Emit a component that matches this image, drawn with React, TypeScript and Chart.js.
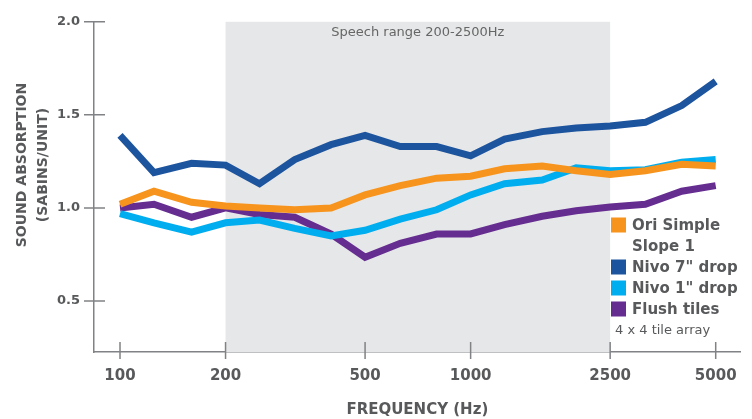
import React, { useEffect, useRef } from "react";
import { Chart, registerables } from "chart.js";

Chart.register(...registerables);

// ---- data ----
const FREQS = [100, 125, 160, 200, 250, 315, 400, 500, 630, 800, 1000, 1250, 1600, 2000, 2500, 3150, 4000, 5000];
const ORI_SIMPLE = [1.02, 1.09, 1.03, 1.01, 1.0, 0.99, 1.0, 1.07, 1.12, 1.16, 1.17, 1.21, 1.225, 1.2, 1.18, 1.2, 1.235, 1.225];
const NIVO_7 = [1.39, 1.19, 1.24, 1.23, 1.13, 1.26, 1.34, 1.39, 1.33, 1.33, 1.28, 1.37, 1.41, 1.43, 1.44, 1.46, 1.55, 1.68];
const NIVO_1 = [0.97, 0.92, 0.87, 0.92, 0.935, 0.89, 0.85, 0.88, 0.94, 0.99, 1.07, 1.13, 1.15, 1.215, 1.2, 1.205, 1.245, 1.26];
const FLUSH = [1.0, 1.02, 0.95, 1.0, 0.965, 0.95, 0.86, 0.735, 0.81, 0.86, 0.86, 0.91, 0.955, 0.985, 1.005, 1.02, 1.09, 1.12];

const SERIES_NAMES = ['Ori Simple Slope 1', 'Nivo 7" drop', 'Nivo 1" drop', 'Flush tiles'];
const LEGEND_LINES = [["Ori Simple", "Slope 1"], ['Nivo 7" drop'], ['Nivo 1" drop'], ["Flush tiles"]];
const LEGEND_NOTE = "4 x 4 tile array";
const X_TICKS = [100, 200, 500, 1000, 2500, 5000];
const Y_TICKS = [0.5, 1.0, 1.5, 2.0];
const SPEECH_RANGE = [200, 2500];
const SPEECH_LABEL = "Speech range 200-2500Hz";
const X_TITLE = "FREQUENCY (Hz)";
const Y_TITLE = ["SOUND ABSORPTION", "(SABINS/UNIT)"];

// ---- styles ----
const COLORS = ["#F7941D", "#1D549E", "#00AEEF", "#662D91"];
const TEXT = "#58595B";
const AXIS = "#808285";
const SHADE = "#E6E7E8";
const FONT = "'DejaVu Sans'";

export default function App() {
  const ref = useRef<HTMLCanvasElement | null>(null);

  useEffect(() => {
    if (!ref.current) return;
    const allSeries = [ORI_SIMPLE, NIVO_7, NIVO_1, FLUSH];
    const orders = [1, 0, 2, 3];

    const decor = {
      id: "decor",
      beforeDatasetsDraw(chart: any) {
        const { ctx, chartArea } = chart;
        const xs = chart.scales.x;
        const x0 = xs.getPixelForValue(SPEECH_RANGE[0]);
        const x1 = xs.getPixelForValue(SPEECH_RANGE[1]);
        ctx.save();
        ctx.fillStyle = SHADE;
        ctx.fillRect(x0, chartArea.top, x1 - x0, chartArea.bottom - chartArea.top);
        ctx.fillStyle = "#666";
        ctx.font = `13px ${FONT}`;
        ctx.textAlign = "center";
        ctx.textBaseline = "middle";
        ctx.fillText(SPEECH_LABEL, (x0 + x1) / 2, chartArea.top + 11);
        ctx.restore();
      },
      afterDraw(chart: any) {
        const { ctx, chartArea } = chart;
        const xs = chart.scales.x;
        const ys = chart.scales.y;
        ctx.save();
        ctx.strokeStyle = AXIS;
        ctx.lineWidth = 1.5;
        ctx.beginPath();
        for (const v of Y_TICKS) {
          const y = ys.getPixelForValue(v);
          ctx.moveTo(chartArea.left - 10, y);
          ctx.lineTo(chartArea.left + 11, y);
        }
        for (const v of X_TICKS) {
          const x = xs.getPixelForValue(v);
          ctx.moveTo(x, chartArea.bottom - 10);
          ctx.lineTo(x, chartArea.bottom + 7);
        }
        ctx.stroke();

        // axis titles
        ctx.fillStyle = TEXT;
        ctx.font = `bold 15px ${FONT}`;
        ctx.textAlign = "center";
        ctx.textBaseline = "middle";
        ctx.fillText(X_TITLE, (chartArea.left + chartArea.right) / 2, 410);
        ctx.save();
        ctx.translate(22, 165);
        ctx.rotate(-Math.PI / 2);
        ctx.font = `bold 14px ${FONT}`;
        ctx.fillText(Y_TITLE[0], 0, 0);
        ctx.fillText(Y_TITLE[1], 0, 21);
        ctx.restore();

        // legend
        const lx = 611;
        let ly = 225;
        ctx.textAlign = "left";
        ctx.font = `bold 15px ${FONT}`;
        LEGEND_LINES.forEach((lines, i) => {
          ctx.fillStyle = COLORS[i];
          ctx.fillRect(lx, ly - 7.5, 15, 15);
          ctx.fillStyle = TEXT;
          lines.forEach((t) => {
            ctx.fillText(t, lx + 21, ly + 1);
            ly += 21;
          });
        });
        ctx.font = `13px ${FONT}`;
        ctx.fillText(LEGEND_NOTE, 615, ly + 1);
        ctx.restore();
      },
    };

    const chart = new Chart(ref.current, {
      type: "line",
      data: {
        datasets: allSeries.map((s, i) => ({
          label: SERIES_NAMES[i],
          data: FREQS.map((f, j) => ({ x: f, y: s[j] })),
          borderColor: COLORS[i],
          backgroundColor: COLORS[i],
          borderWidth: 7,
          borderCapStyle: "butt",
          borderJoinStyle: "miter",
          pointRadius: 0,
          tension: 0,
          fill: false,
          order: orders[i],
        })),
      },
      options: {
        animation: false,
        responsive: false,
        maintainAspectRatio: false,
        layout: { padding: { top: 15, right: 11, left: 0, bottom: 0 } },
        plugins: { legend: { display: false }, tooltip: { enabled: false } },
        scales: {
          x: {
            type: "logarithmic",
            min: 84.3,
            max: 5890,
            grid: { display: false, drawTicks: false },
            border: { display: true, color: AXIS, width: 1.5 },
            ticks: {
              autoSkip: false,
              maxRotation: 0,
              padding: 15,
              color: TEXT,
              font: { family: FONT, weight: "bold", size: 15 },
              callback: (v: any) => String(v),
            },
            afterBuildTicks: (s: any) => {
              s.ticks = X_TICKS.map((v) => ({ value: v }));
            },
            afterFit: (s: any) => {
              s.height = 67;
            },
          },
          y: {
            type: "linear",
            min: 0.226,
            max: 2.0,
            grid: { display: false, drawTicks: false },
            border: { display: true, color: AXIS, width: 1.5 },
            ticks: {
              padding: 14,
              color: TEXT,
              font: { family: FONT, weight: "bold", size: 13 },
              callback: (v: any) => Number(v).toFixed(1),
            },
            afterBuildTicks: (s: any) => {
              s.ticks = Y_TICKS.map((v) => ({ value: v }));
            },
            afterFit: (s: any) => {
              s.width = 94;
            },
          },
        },
      } as any,
      plugins: [decor],
    });
    return () => chart.destroy();
  }, []);

  return (
    <div style={{ position: "absolute", left: 0, top: 0, width: 752, height: 419, background: "#fff" }}>
      <canvas ref={ref} width={752} height={419} style={{ width: 752, height: 419, display: "block" }} />
    </div>
  );
}
